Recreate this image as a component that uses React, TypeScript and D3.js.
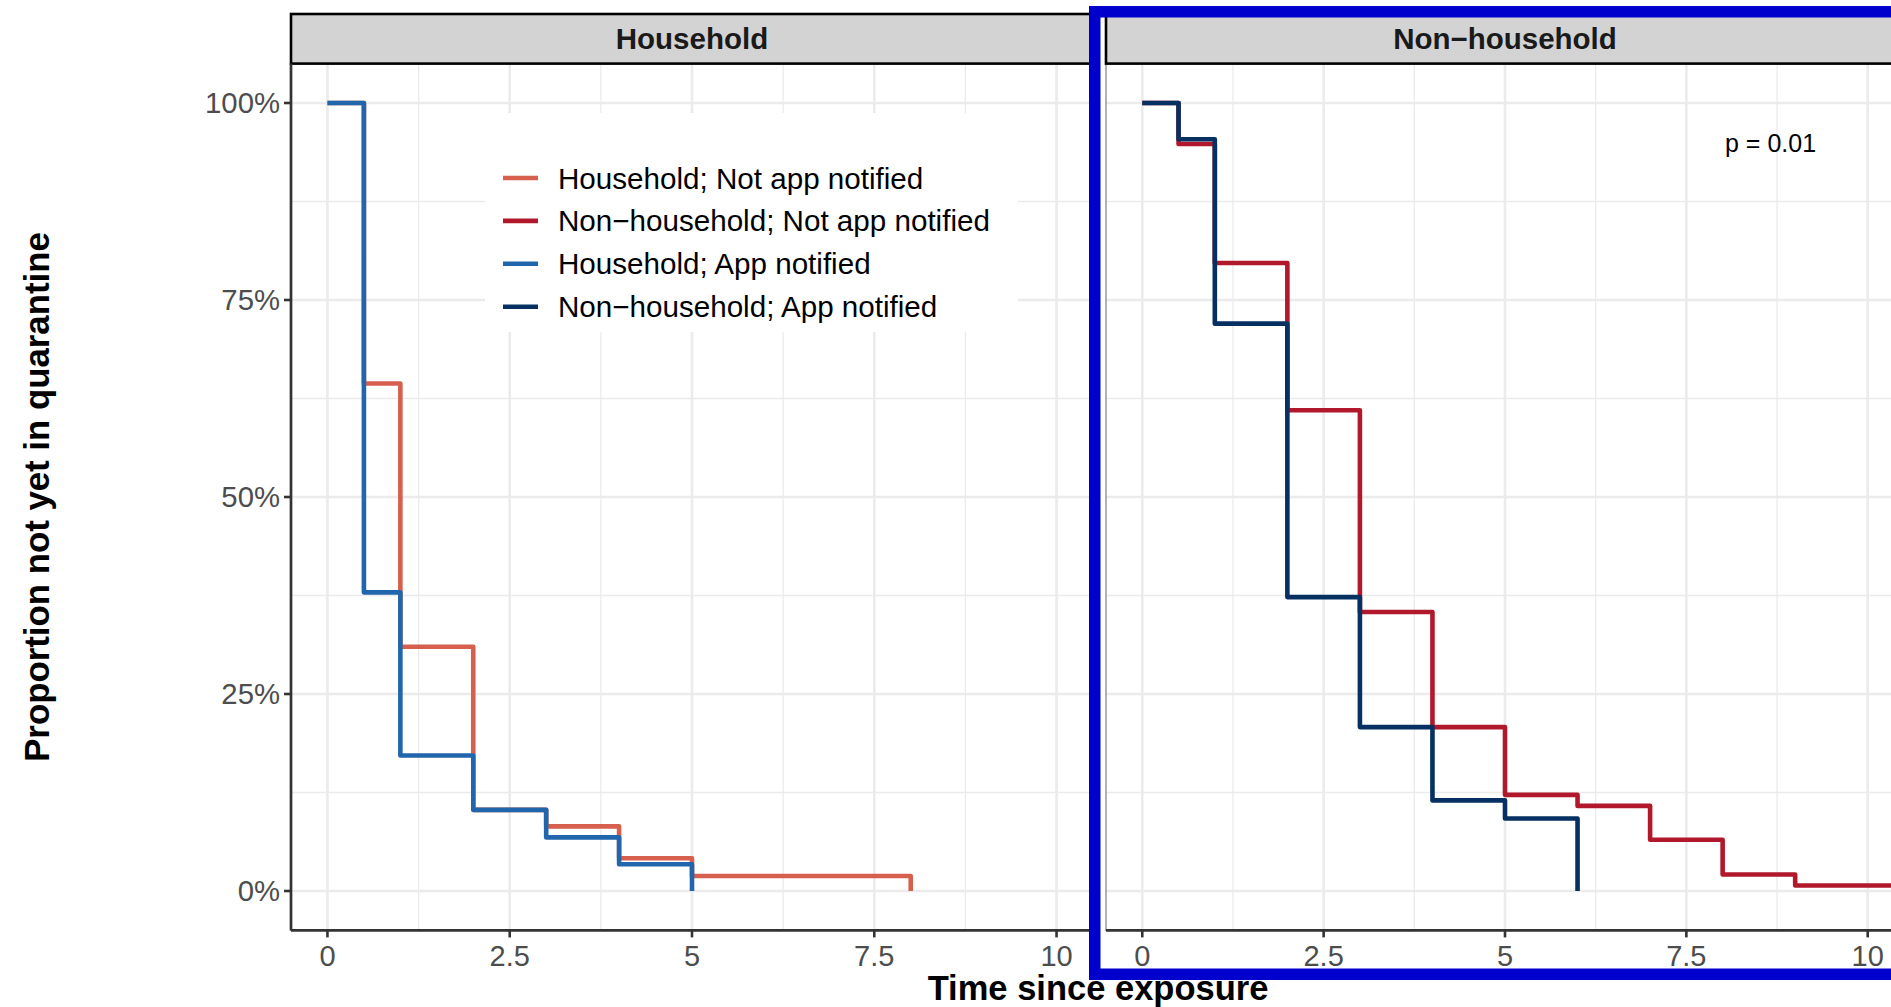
import React, { useEffect, useRef } from 'react';
import * as d3 from 'd3';

// facet labels
const panelLabels = ['Household', 'Non\u2212household'];

// legend / series
const seriesNames = [
  'Household; Not app notified',
  'Non\u2212household; Not app notified',
  'Household; App notified',
  'Non\u2212household; App notified',
];
const seriesColors = ['#D6604D', '#B2182B', '#2166AC', '#053061'];
const seriesPanel = [0, 1, 0, 1];

// step curves: time since exposure (days) and proportion not yet in quarantine
const hhNotAppTimes = [0, 0.5, 1, 2, 3, 4, 5, 8];
const hhNotAppSurv = [1, 0.644, 0.31, 0.103, 0.082, 0.0415, 0.019, 0];

const nhNotAppTimes = [0, 0.5, 1, 2, 3, 4, 5, 6, 7, 8, 9, 11];
const nhNotAppSurv = [1, 0.948, 0.797, 0.61, 0.354, 0.208, 0.122, 0.108, 0.065, 0.021, 0.007, 0.007];

const hhAppTimes = [0, 0.5, 1, 2, 3, 4, 5];
const hhAppSurv = [1, 0.379, 0.172, 0.103, 0.068, 0.034, 0];

const nhAppTimes = [0, 0.5, 1, 2, 3, 4, 5, 6];
const nhAppSurv = [1, 0.954, 0.72, 0.373, 0.208, 0.115, 0.092, 0];

const seriesTimes = [hhNotAppTimes, nhNotAppTimes, hhAppTimes, nhAppTimes];
const seriesSurv = [hhNotAppSurv, nhNotAppSurv, hhAppSurv, nhAppSurv];

// axes
const xTicks = [0, 2.5, 5, 7.5, 10];
const xMinorTicks = [1.25, 3.75, 6.25, 8.75];
const yTicks = [0, 0.25, 0.5, 0.75, 1];
const yMinorTicks = [0.125, 0.375, 0.625, 0.875];

const pValueText = 'p = 0.01';
const xTitle = 'Time since exposure';
const yTitle = 'Proportion not yet in quarantine';

const FONT = '"Liberation Sans", Arial, Helvetica, sans-serif';
const LINE_W = 4.6;

const App: React.FC = () => {
  const svgRef = useRef<SVGSVGElement>(null);

  useEffect(() => {
    if (!svgRef.current) return;
    const svg = d3.select(svgRef.current);
    svg.selectAll('*').remove();

    const width = 1891;
    const height = 1007;
    const panelX: [number, number][] = [[291, 1093], [1106, 1904]];
    const top = 63.6;
    const bottom = 930.4;
    const stripTop = 14;

    svg.append('rect').attr('width', width).attr('height', height).attr('fill', '#fff');

    const y = d3.scaleLinear().domain([-0.05, 1.05]).range([bottom, top]);
    const defs = svg.append('defs');

    panelX.forEach(([x0, x1], p) => {
      const x = d3.scaleLinear().domain([-0.5, 10.5]).range([x0, x1]);
      const g = svg.append('g');

      defs.append('clipPath').attr('id', `clip-${p}`)
        .append('rect').attr('x', x0).attr('y', top).attr('width', x1 - x0).attr('height', bottom - top);

      // panel bg
      g.append('rect').attr('x', x0).attr('y', top).attr('width', x1 - x0).attr('height', bottom - top)
        .attr('fill', '#fff');

      // minor grid
      g.selectAll('.vminor').data(xMinorTicks).enter().append('line')
        .attr('x1', d => x(d)).attr('x2', d => x(d)).attr('y1', top).attr('y2', bottom)
        .attr('stroke', '#EBEBEB').attr('stroke-width', 1.3);
      g.selectAll('.hminor').data(yMinorTicks).enter().append('line')
        .attr('x1', x0).attr('x2', x1).attr('y1', d => y(d)).attr('y2', d => y(d))
        .attr('stroke', '#EBEBEB').attr('stroke-width', 1.3);
      // major grid
      g.selectAll('.vmajor').data(xTicks).enter().append('line')
        .attr('x1', d => x(d)).attr('x2', d => x(d)).attr('y1', top).attr('y2', bottom)
        .attr('stroke', '#EBEBEB').attr('stroke-width', 2.6);
      g.selectAll('.hmajor').data(yTicks).enter().append('line')
        .attr('x1', x0).attr('x2', x1).attr('y1', d => y(d)).attr('y2', d => y(d))
        .attr('stroke', '#EBEBEB').attr('stroke-width', 2.6);

      // legend box (left panel only), drawn over the grid
      if (p === 0) {
        const lg = g.append('g');
        lg.append('rect').attr('x', 485).attr('y', 113).attr('width', 533).attr('height', 219).attr('fill', '#fff');
        seriesNames.forEach((name, i) => {
          const cy = 178 + i * 42.9;
          lg.append('line').attr('x1', 503).attr('x2', 538).attr('y1', cy).attr('y2', cy)
            .attr('stroke', seriesColors[i]).attr('stroke-width', LINE_W);
          lg.append('text').attr('x', 558).attr('y', cy + 10.5)
            .attr('font-family', FONT).attr('font-size', 29.6).attr('fill', '#000')
            .text(name);
        });
      }

      // step lines
      const line = d3.line<[number, number]>()
        .x(d => x(d[0])).y(d => y(d[1]))
        .curve(d3.curveStepAfter);
      const lines = g.append('g').attr('clip-path', `url(#clip-${p})`);
      seriesNames.forEach((_, i) => {
        if (seriesPanel[i] !== p) return;
        const pts = seriesTimes[i].map((t, k) => [t, seriesSurv[i][k]] as [number, number]);
        lines.append('path').attr('d', line(pts) as string)
          .attr('fill', 'none').attr('stroke', seriesColors[i]).attr('stroke-width', LINE_W)
          .attr('stroke-linejoin', 'round').attr('stroke-linecap', 'butt');
      });

      if (p === 1) {
        g.append('text').attr('x', x(8.66)).attr('y', 152)
          .attr('text-anchor', 'middle').attr('font-family', FONT).attr('font-size', 25)
          .attr('fill', '#000').text(pValueText);
      }

      // panel border
      g.append('rect').attr('x', x0).attr('y', top).attr('width', x1 - x0).attr('height', bottom - top)
        .attr('fill', 'none').attr('stroke', '#7F7F7F').attr('stroke-width', 1.2);

      // strip
      g.append('rect').attr('x', x0).attr('y', stripTop).attr('width', x1 - x0).attr('height', top - stripTop)
        .attr('fill', '#D3D3D3').attr('stroke', '#000').attr('stroke-width', 2.6);
      g.append('text').attr('x', (x0 + x1) / 2).attr('y', (stripTop + top) / 2 + 10.5)
        .attr('text-anchor', 'middle').attr('font-family', FONT).attr('font-weight', 'bold')
        .attr('font-size', 29.5).attr('fill', '#1A1A1A').text(panelLabels[p]);

      // x axis
      g.append('line').attr('x1', x0).attr('x2', x1).attr('y1', bottom).attr('y2', bottom)
        .attr('stroke', '#333').attr('stroke-width', 2.7);
      g.selectAll('.xtick').data(xTicks).enter().append('line')
        .attr('x1', d => x(d)).attr('x2', d => x(d)).attr('y1', bottom).attr('y2', bottom + 7)
        .attr('stroke', '#333').attr('stroke-width', 2.6);
      g.selectAll('.xlab').data(xTicks).enter().append('text')
        .attr('x', d => x(d)).attr('y', 966)
        .attr('text-anchor', 'middle').attr('font-family', FONT).attr('font-size', 29)
        .attr('fill', '#4D4D4D').text(d => d3.format('~g')(d));

      if (p === 0) {
        g.append('line').attr('x1', x0).attr('x2', x0).attr('y1', top).attr('y2', bottom)
          .attr('stroke', '#333').attr('stroke-width', 2.7);
        g.selectAll('.ytick').data(yTicks).enter().append('line')
          .attr('x1', x0 - 7).attr('x2', x0).attr('y1', d => y(d)).attr('y2', d => y(d))
          .attr('stroke', '#333').attr('stroke-width', 2.6);
        g.selectAll('.ylab').data(yTicks).enter().append('text')
          .attr('x', x0 - 11).attr('y', d => y(d) + 10.3)
          .attr('text-anchor', 'end').attr('font-family', FONT).attr('font-size', 29.3)
          .attr('fill', '#4D4D4D').text(d => d3.format('.0%')(d));
      }
    });

    // axis titles
    svg.append('text').attr('x', 1098).attr('y', 1000)
      .attr('text-anchor', 'middle').attr('font-family', FONT).attr('font-weight', 'bold')
      .attr('font-size', 34.5).attr('fill', '#000').text(xTitle);
    svg.append('text').attr('transform', `translate(49, ${(top + bottom) / 2}) rotate(-90)`)
      .attr('text-anchor', 'middle').attr('font-family', FONT).attr('font-weight', 'bold')
      .attr('font-size', 34.8).attr('fill', '#000').text(yTitle);

    // highlight frame around the non-household panel
    svg.append('rect').attr('x', 1094.75).attr('y', 11.75).attr('width', 900).attr('height', 962.5)
      .attr('fill', 'none').attr('stroke', '#0000CC').attr('stroke-width', 11.5);
  }, []);

  return (
    <svg
      ref={svgRef}
      width={1891}
      height={1007}
      viewBox="0 0 1891 1007"
      style={{ position: 'absolute', left: 0, top: 0, display: 'block' }}
    />
  );
};

export default App;
